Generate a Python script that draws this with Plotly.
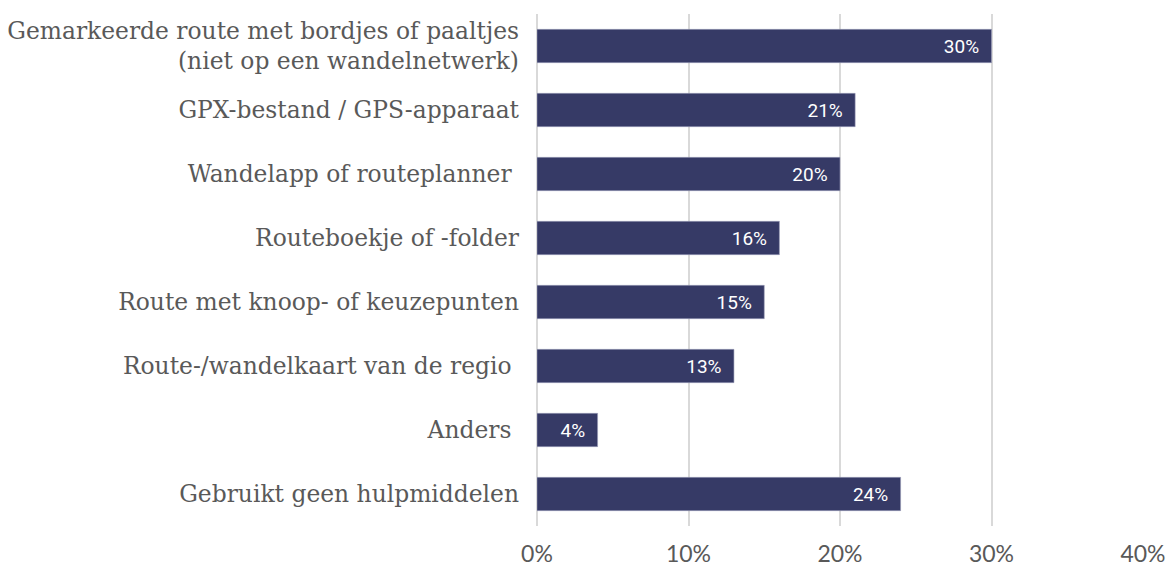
import plotly.graph_objects as go

categories = [
    "Gemarkeerde route met bordjes of paaltjes<br>(niet op een wandelnetwerk)",
    "GPX-bestand / GPS-apparaat",
    "Wandelapp of routeplanner\u00a0",
    "Routeboekje of -folder",
    "Route met knoop- of keuzepunten",
    "Route-/wandelkaart van de regio\u00a0",
    "Anders\u00a0",
    "Gebruikt geen hulpmiddelen",
]
values = [0.30, 0.21, 0.20, 0.16, 0.15, 0.13, 0.04, 0.24]
tick_vals = [0, 0.1, 0.2, 0.3, 0.4]
tick_text = ["0%", "10%", "20%", "30%", "40%"]

fig = go.Figure(go.Bar(
    y=categories,
    x=values,
    orientation="h",
    marker=dict(color="#363a66", line=dict(color="#9a9cb8", width=0.6)),
    width=0.52,
    texttemplate="%{x:.0%}\u00a0\u00a0",
    textposition="inside",
    insidetextanchor="end",
    textfont=dict(family="Roboto", size=19, color="white"),
    cliponaxis=False,
))

# page body has an 8px margin, so the figure is offset by (8, 8)
fig.update_layout(
    width=1166, height=559,
    margin=dict(l=529, r=31, t=6, b=41, autoexpand=False),
    plot_bgcolor="white", paper_bgcolor="white",
    showlegend=False,
    bargap=0.48,
)
fig.update_xaxes(
    range=[0, 0.4],
    tickvals=tick_vals, ticktext=tick_text,
    showgrid=True, gridcolor="#d9d9d9", gridwidth=1.5,
    zeroline=True, zerolinecolor="#d9d9d9", zerolinewidth=1.5,
    tickfont=dict(family="Lato", size=23, color="#595959"),
    ticklabelstandoff=12,
    showline=False,
    automargin=False,
)
fig.update_yaxes(
    autorange="reversed",
    tickfont=dict(family="DejaVu Serif", size=23.4, color="#595959"),
    ticklabelstandoff=17,
    showgrid=False, showline=False,
    automargin=False,
)

fig.write_html("out.html")
